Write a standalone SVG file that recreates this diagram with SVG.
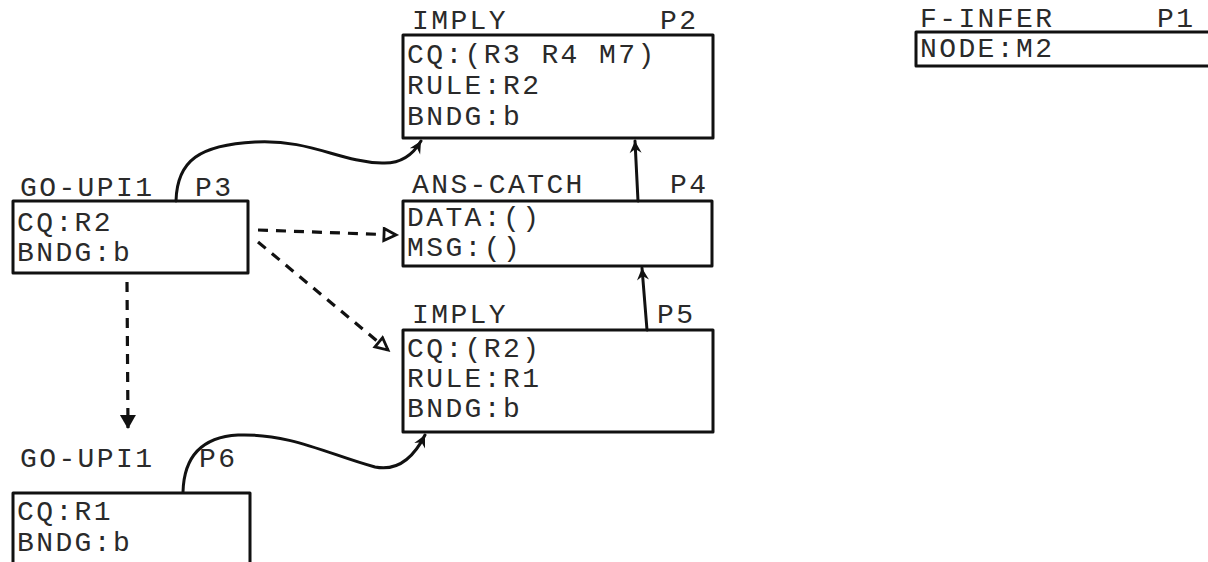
<svg xmlns="http://www.w3.org/2000/svg" width="1208" height="562" viewBox="0 0 1208 562">
<style>
  .box{fill:none;stroke:#111;stroke-width:3;stroke-linejoin:round}
  .t{font-family:"Liberation Mono","DejaVu Sans Mono",monospace;font-size:28px;letter-spacing:2.4px;fill:#2a2a2a}
  .c{fill:none;stroke:#111;stroke-width:3;stroke-linecap:round}
  .d{fill:none;stroke:#111;stroke-width:3.2;stroke-dasharray:10 8}
</style>
<defs>
  <marker id="ah" markerUnits="userSpaceOnUse" markerWidth="16" markerHeight="16" refX="13" refY="7" orient="auto">
    <path d="M1,1 L13,7 L1,13 L5,7 z" fill="#111"/>
  </marker>
  <marker id="open" markerUnits="userSpaceOnUse" markerWidth="18" markerHeight="18" refX="14" refY="8" orient="auto">
    <path d="M2,2 L14,8 L2,14 z" fill="#fff" stroke="#111" stroke-width="2.8"/>
  </marker>
  <marker id="fill" markerUnits="userSpaceOnUse" markerWidth="18" markerHeight="20" refX="14" refY="9" orient="auto">
    <path d="M1,1 L15,9 L1,17 z" fill="#111"/>
  </marker>
</defs>
<rect width="1208" height="562" fill="#fff"/>

<g id="connectors">
  <path class="c" d="M176,201 C177,160 200,145 255,142 C310,139 340,162 382,163 C402,164 414,153 421,141" marker-end="url(#ah)"/>
  <path class="c" d="M183,492 C184,455 203,437 238,435 C290,433 330,455 375,467 C400,472 415,455 425,435" marker-end="url(#ah)"/>
  <path class="c" d="M638,201 L635,141" marker-end="url(#ah)"/>
  <path class="c" d="M647,330 L642,268" marker-end="url(#ah)"/>
  <path class="d" d="M258,230 L396,235" marker-end="url(#open)"/>
  <path class="d" d="M258,242 L388,350" marker-end="url(#open)"/>
  <path class="d" d="M127,282 L128,428" marker-end="url(#fill)"/>
</g>

<g id="n-p2">
  <text class="t" x="412" y="29">IMPLY</text>
  <text class="t" x="660" y="29">P2</text>
  <rect class="box" x="403" y="35" width="310" height="103"/>
  <text class="t" x="407" y="63">CQ:(R3 R4 M7)</text>
  <text class="t" x="407" y="94">RULE:R2</text>
  <text class="t" x="407" y="125">BNDG:b</text>
</g>

<g id="n-p1">
  <text class="t" x="920" y="27">F-INFER</text>
  <text class="t" x="1157" y="27">P1</text>
  <path class="box" d="M1215,32 L916,32 L916,66 L1215,66"/>
  <text class="t" x="920" y="57">NODE:M2</text>
</g>

<g id="n-p3">
  <text class="t" x="20" y="196">GO-UPI1</text>
  <text class="t" x="195" y="196">P3</text>
  <rect class="box" x="13" y="201" width="235" height="72"/>
  <text class="t" x="17" y="231">CQ:R2</text>
  <text class="t" x="17" y="261">BNDG:b</text>
</g>

<g id="n-p4">
  <text class="t" x="412" y="193">ANS-CATCH</text>
  <text class="t" x="670" y="193">P4</text>
  <rect class="box" x="403" y="201" width="309" height="65"/>
  <text class="t" x="407" y="226">DATA:()</text>
  <text class="t" x="407" y="256">MSG:()</text>
</g>

<g id="n-p5">
  <text class="t" x="412" y="323">IMPLY</text>
  <text class="t" x="657" y="323">P5</text>
  <rect class="box" x="403" y="330" width="310" height="102"/>
  <text class="t" x="407" y="357">CQ:(R2)</text>
  <text class="t" x="407" y="387">RULE:R1</text>
  <text class="t" x="407" y="417">BNDG:b</text>
</g>

<g id="n-p6">
  <text class="t" x="20" y="467">GO-UPI1</text>
  <text class="t" x="199" y="467">P6</text>
  <path class="box" d="M13,570 L13,493 L250,493 L250,570"/>
  <text class="t" x="17" y="520">CQ:R1</text>
  <text class="t" x="17" y="551">BNDG:b</text>
</g>
</svg>
